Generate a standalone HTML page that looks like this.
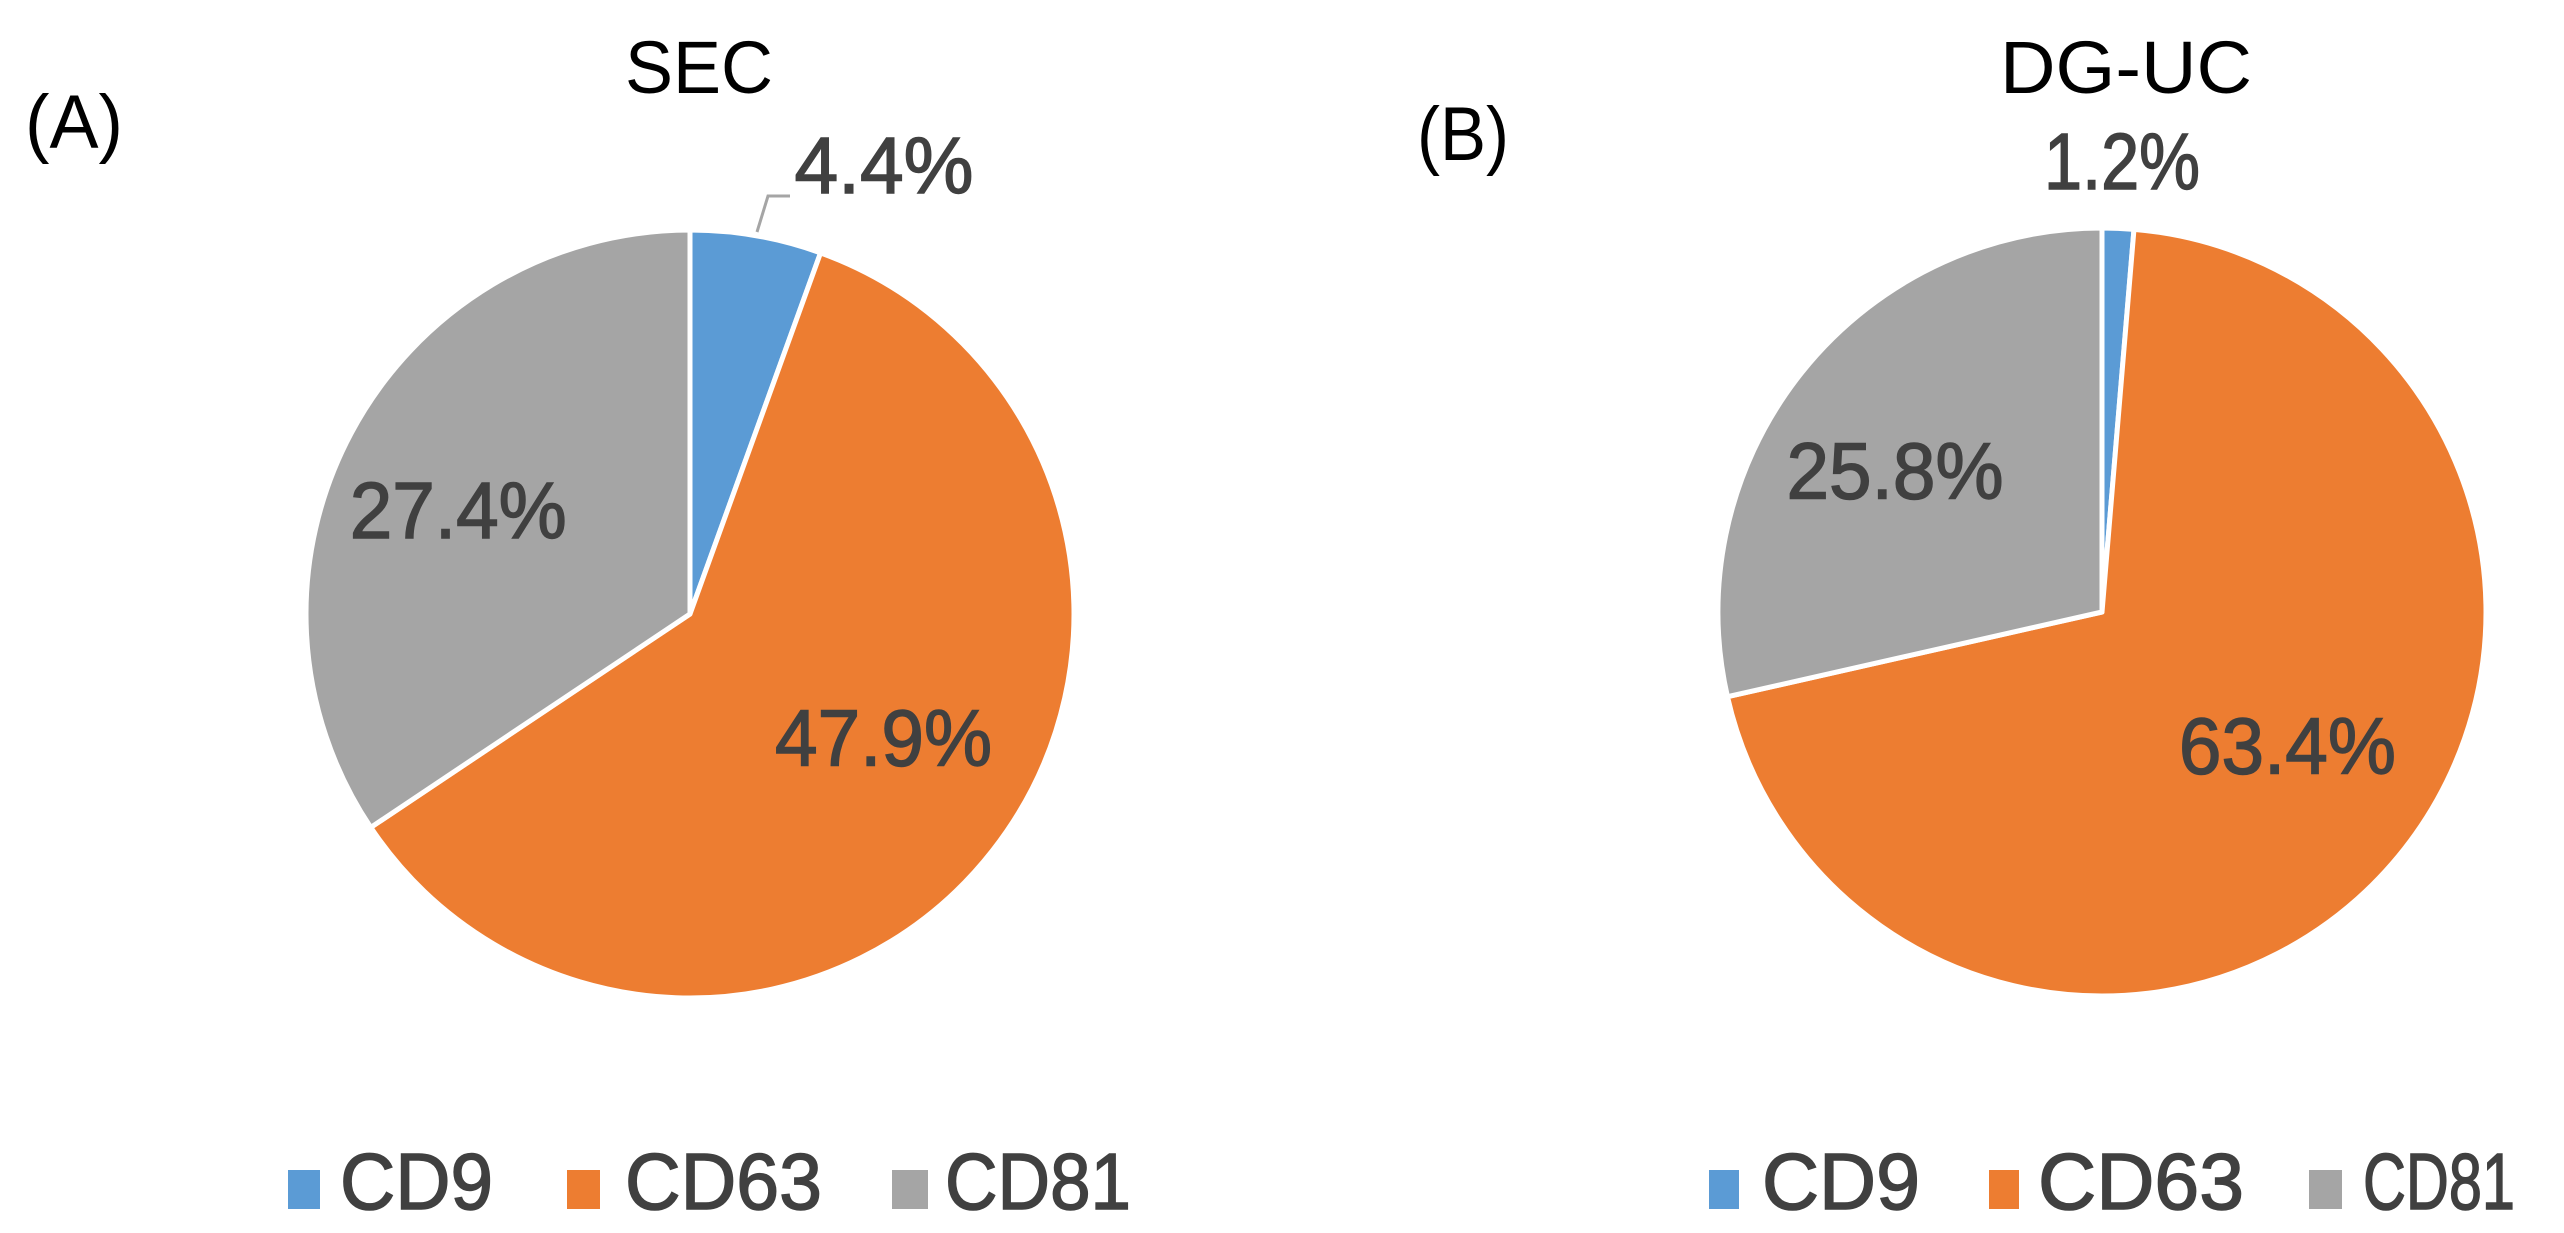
<!DOCTYPE html>
<html><head><meta charset="utf-8"><style>
html,body{margin:0;padding:0;background:#fff;}
svg{display:block;font-family:"Liberation Sans",sans-serif;}
</style></head><body>
<svg id="chart" width="2564" height="1233" viewBox="0 0 2564 1233" xmlns="http://www.w3.org/2000/svg">
<text x="25" y="148" font-size="76" fill="#000" textLength="98" lengthAdjust="spacingAndGlyphs">(A)</text>
<text x="1417" y="160" font-size="76" fill="#000" textLength="92" lengthAdjust="spacingAndGlyphs">(B)</text>
<text x="625" y="93" font-size="74" fill="#000" textLength="148" lengthAdjust="spacingAndGlyphs">SEC</text>
<text x="2000" y="93" font-size="74" fill="#000" textLength="252" lengthAdjust="spacingAndGlyphs">DG-UC</text>
<g id="pies"></g>
<polyline points="757,232 768,196 790,196" fill="none" stroke="#A5A5A5" stroke-width="3"/>
<g font-weight="normal" stroke="#404040" stroke-width="1.5">
<rect x="288" y="1170" width="32" height="39" fill="#5B9BD5" stroke="none"/>
<text x="340" y="1209" font-size="80" fill="#404040" textLength="153" lengthAdjust="spacingAndGlyphs">CD9</text>
<rect x="567" y="1170" width="33" height="39" fill="#ED7D31" stroke="none"/>
<text x="625" y="1209" font-size="80" fill="#404040" textLength="197" lengthAdjust="spacingAndGlyphs">CD63</text>
<rect x="892" y="1170" width="36" height="39" fill="#A5A5A5" stroke="none"/>
<text x="945" y="1209" font-size="80" fill="#404040" textLength="186" lengthAdjust="spacingAndGlyphs">CD81</text>
</g>
<g stroke="#404040" stroke-width="1.5">
<rect x="1709" y="1170" width="30" height="39" fill="#5B9BD5" stroke="none"/>
<text x="1762" y="1209" font-size="80" fill="#404040" textLength="158" lengthAdjust="spacingAndGlyphs">CD9</text>
<rect x="1989" y="1170" width="30" height="39" fill="#ED7D31" stroke="none"/>
<text x="2038" y="1209" font-size="80" fill="#404040" textLength="206" lengthAdjust="spacingAndGlyphs">CD63</text>
<rect x="2309" y="1170" width="33" height="39" fill="#A5A5A5" stroke="none"/>
<text x="2363" y="1209" font-size="80" fill="#404040" textLength="152" lengthAdjust="spacingAndGlyphs">CD81</text>
</g>
</svg>
<script>
const categories = ["CD9", "CD63", "CD81"];
const secValues = [4.4, 47.9, 27.4];
const dgucValues = [1.2, 63.4, 25.8];
const secLabels = ["4.4%", "47.9%", "27.4%"];
const dgucLabels = ["1.2%", "63.4%", "25.8%"];
const colors = ["#5B9BD5", "#ED7D31", "#A5A5A5"];
const NS = "http://www.w3.org/2000/svg";
const root = document.getElementById("pies");
function pt(cx, cy, r, a) { return [cx + r * Math.sin(a), cy - r * Math.cos(a)]; }
function drawPie(name, values, labels, cx, cy, R, outsidePos) {
  const g = document.createElementNS(NS, "g");
  
  
  root.appendChild(g);
  const total = values.reduce((s, v) => s + v, 0);
  let a0 = 0;
  values.forEach((v, i) => {
    const a1 = a0 + v / total * Math.PI * 2;
    const p0 = pt(cx, cy, R, a0), p1 = pt(cx, cy, R, a1);
    const large = (a1 - a0) > Math.PI ? 1 : 0;
    const path = document.createElementNS(NS, "path");
    path.setAttribute("d", `M${cx},${cy} L${p0[0]},${p0[1]} A${R},${R} 0 ${large} 1 ${p1[0]},${p1[1]} Z`);
    path.setAttribute("fill", colors[i]);
    path.setAttribute("stroke", "#fff");
    path.setAttribute("stroke-width", "5");
    path.setAttribute("stroke-linejoin", "round");
    
    
    g.appendChild(path);
    const t = document.createElementNS(NS, "text");
    let lx, ly;
    const m = (a0 + a1) / 2;
    const p = pt(cx, cy, R * 0.64, m);
    if (i === 0) { lx = outsidePos[0]; ly = outsidePos[1]; }
    else if (i === 1) { lx = p[0]; ly = p[1]; }
    else { lx = p[0] - 15; ly = p[1] + 40; }
    t.setAttribute("x", lx); t.setAttribute("y", ly);
    t.setAttribute("text-anchor", "middle");
    t.setAttribute("font-size", "80");
    t.setAttribute("fill", "#404040");
    t.setAttribute("stroke", "#404040");
    t.setAttribute("stroke-width", "1.5");
    t.setAttribute("textLength", labels[i].length > 4 ? 217 : (i === 0 && outsidePos[2]) ? outsidePos[2] : 170);
    t.setAttribute("lengthAdjust", "spacingAndGlyphs");
    t.textContent = labels[i];
    
    
    g.appendChild(t);
    a0 = a1;
  });
}
drawPie("sec-pie", secValues, secLabels, 690, 614, 384, [884, 193, 179]);
drawPie("dguc-pie", dgucValues, dgucLabels, 2102, 612, 384, [2122, 189, 156]);
</script>
</body></html>
